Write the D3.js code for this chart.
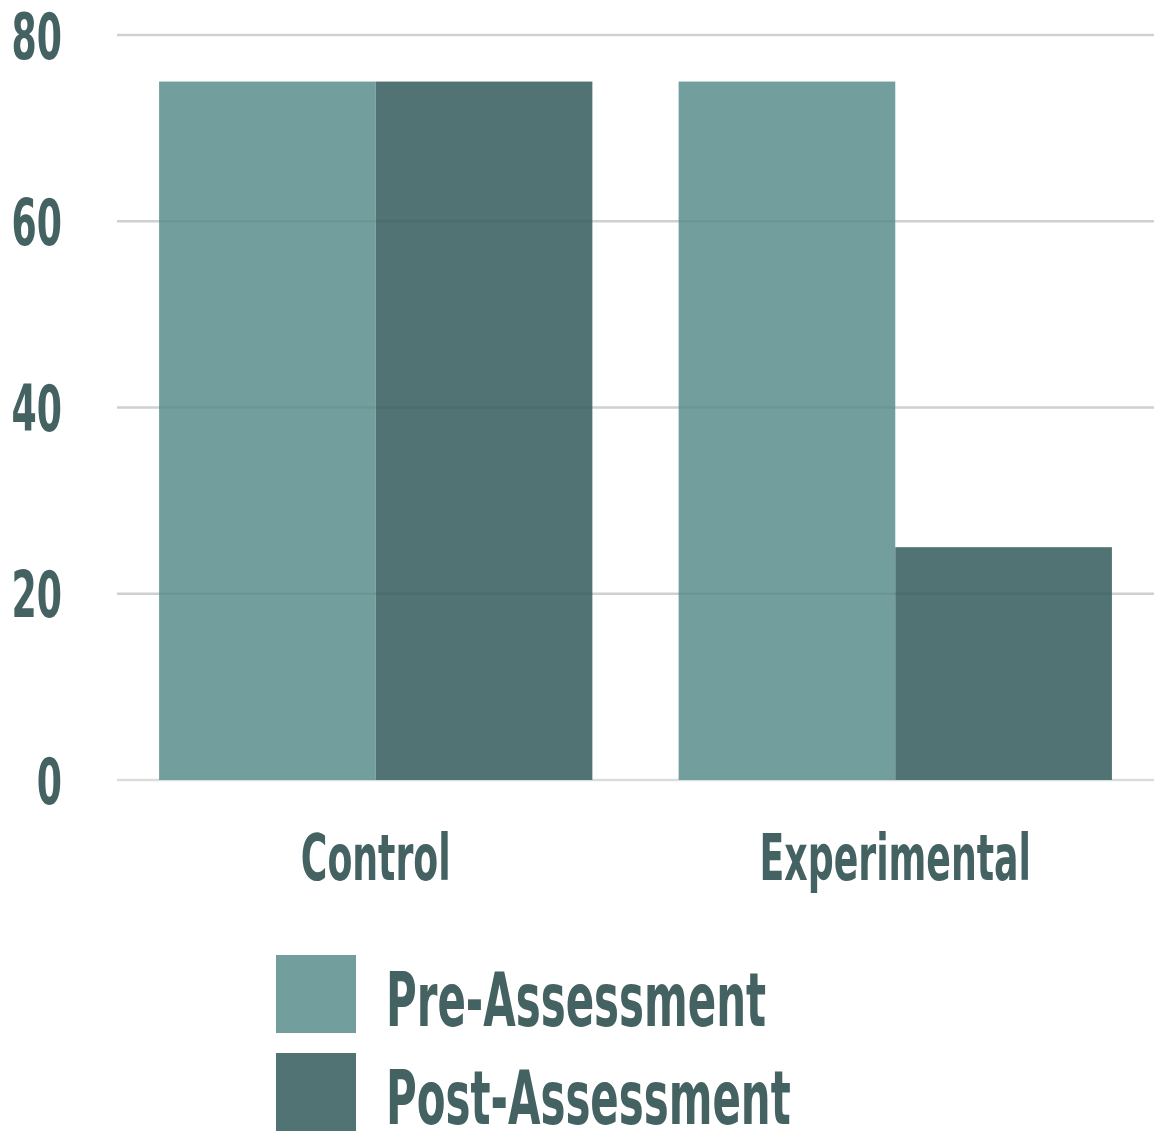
<!DOCTYPE html>
<html>
<head>
<meta charset="utf-8">
<script src="https://cdn.jsdelivr.net/npm/d3@7"></script>
<style>
  html, body { margin: 0; padding: 0; background: #fff; }
  svg text { font-family: "DejaVu Sans Condensed", "Liberation Sans Narrow", sans-serif; font-weight: bold; fill: #456262; }
</style>
</head>
<body>
<svg id="chart" width="1154" height="1135"></svg>
<script>
// Assessment scores by group
const categories = ["Control", "Experimental"];
const seriesNames = ["Pre-Assessment", "Post-Assessment"];
const preValues = [75, 75];
const postValues = [75, 25];
const yTicks = [0, 20, 40, 60, 80];
const colors = ["#729e9e", "#517373"];

const svg = d3.select("#chart");
const W = 1154;
const squeeze = 0.63; // horizontal compression for the narrow display lettering

const y = d3.scaleLinear().domain([0, 80]).range([780, 35]);
const x0 = d3.scaleBand().domain(categories).range([117, W]).paddingInner(0.166).paddingOuter(0.081);
const x1 = d3.scaleBand().domain(seriesNames).range([0, x0.bandwidth()]).padding(0);

const rows = categories.map((c, i) => ({ cat: c, values: [preValues[i], postValues[i]] }));

// Grid lines behind the bars
const gridBack = svg.append("g");
gridBack.selectAll("line").data(yTicks).join("line")
  .attr("x1", 117).attr("x2", W)
  .attr("y1", d => y(d)).attr("y2", d => y(d))
  .attr("stroke", "#d9dddd").attr("stroke-width", 2.5);

// Bars
const groups = svg.append("g").selectAll("g").data(rows).join("g")
  .attr("transform", d => `translate(${x0(d.cat)},0)`);
groups.selectAll("rect")
  .data(d => d.values.map((v, j) => ({ name: seriesNames[j], v, j })))
  .join("rect")
  .attr("x", d => x1(d.name))
  .attr("width", x1.bandwidth())
  .attr("y", d => y(d.v))
  .attr("height", d => y(0) - y(d.v))
  .attr("fill", d => colors[d.j]);

// Faint grid lines showing through the bars
const gridFront = svg.append("g");
gridFront.selectAll("line").data(yTicks.filter(t => t > 0)).join("line")
  .attr("x1", 117).attr("x2", W)
  .attr("y1", d => y(d)).attr("y2", d => y(d))
  .attr("stroke", "#000").attr("stroke-opacity", 0.05).attr("stroke-width", 2.5);

// Y-axis labels
const yAxis = d3.axisLeft(y).tickValues(yTicks).tickSize(0).tickPadding(0);
const yg = svg.append("g").attr("transform", "translate(62,0)").call(yAxis);
yg.select(".domain").remove();
yg.selectAll("text")
  .attr("font-size", 64).attr("font-family", null).attr("fill", null)
  .attr("dy", "0.36em").attr("x", 0)
  .attr("transform", `scale(${squeeze},1)`);

// X-axis category labels
const xAxis = d3.axisBottom(x0).tickSize(0).tickPadding(0);
const xg = svg.append("g").attr("transform", "translate(0,880)").call(xAxis);
xg.select(".domain").remove();
xg.selectAll("text")
  .attr("font-size", 64).attr("font-family", null).attr("fill", null)
  .attr("dy", 0).attr("y", 0)
  .attr("transform", `scale(${squeeze},1)`);

// Legend
const legend = svg.append("g").attr("transform", "translate(276,955)");
const li = legend.selectAll("g").data(seriesNames).join("g")
  .attr("transform", (d, i) => `translate(0,${i * 98})`);
li.append("rect").attr("width", 80).attr("height", 78).attr("fill", (d, i) => colors[i]);
li.append("text")
  .attr("x", 0).attr("y", 71)
  .attr("font-size", 74)
  .attr("transform", `translate(110,0) scale(${squeeze},1)`)
  .text(d => d);
</script>
</body>
</html>
